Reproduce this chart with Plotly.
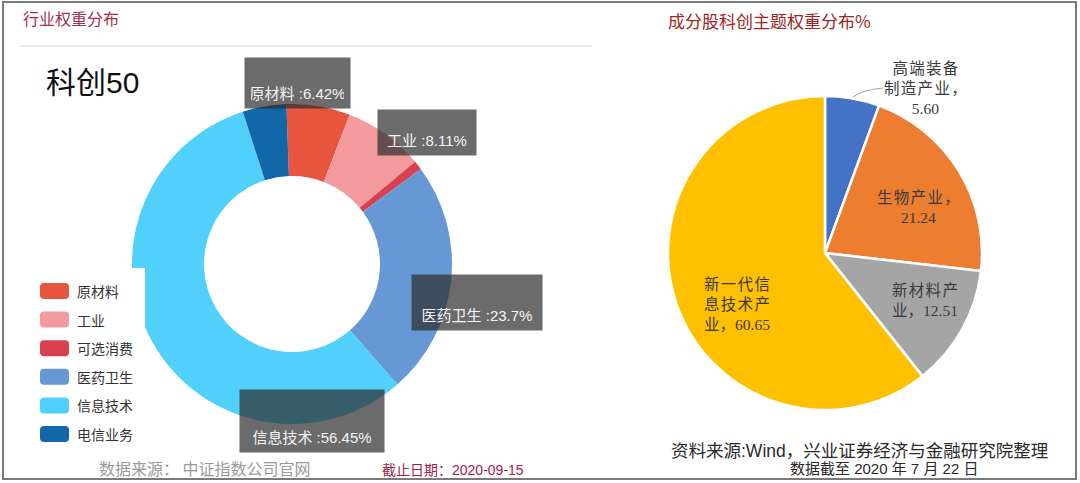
import plotly.graph_objects as go

# ---------------- data ----------------
left_labels = ["原材料", "工业", "可选消费", "医药卫生", "信息技术", "电信业务"]
left_values = [6.42, 8.11, 0.90, 23.70, 56.45, 4.42]
left_colors = ["#E8553E", "#F29A9E", "#D9404F", "#6698D6", "#50D0FA", "#1267A8"]
left_shown = ["原材料", "工业", "医药卫生", "信息技术"]   # slices that carry a label box

right_labels = ["高端装备制造产业", "生物产业", "新材料产业", "新一代信息技术产业"]
right_label_lines = [["高端装备", "制造产业，"], ["生物产业，"], ["新材料产", "业，"], ["新一代信", "息技术产", "业，"]]
right_values = [5.60, 21.24, 12.51, 60.65]
right_colors = ["#4472C4", "#ED7D31", "#A5A5A5", "#FFC000"]

W, H = 1080, 483


def px(x):
    return x / W


def py(y):
    return 1 - y / H


CJK = "Noto Sans CJK SC"
SANS = "Liberation Sans, Noto Sans CJK SC"
SERIF = "Liberation Serif, Noto Sans CJK SC"

fig = go.Figure()

# left donut: centre (292,264), radius 160
lc, lr = (292, 264), 160
fig.add_trace(go.Pie(
    labels=left_labels, values=left_values, sort=False, direction="clockwise", rotation=-2,
    hole=0.55, marker=dict(colors=left_colors, line=dict(width=0)),
    textinfo="none", hoverinfo="label+percent", showlegend=False,
    domain=dict(x=[px(lc[0] - lr), px(lc[0] + lr)], y=[py(lc[1] + lr), py(lc[1] - lr)]),
))

# right pie: centre (825,253), radius 157
rc, rr = (825, 253), 157
fig.add_trace(go.Pie(
    labels=right_labels, values=right_values, sort=False, direction="clockwise", rotation=0,
    marker=dict(colors=right_colors, line=dict(width=2.5, color="white")),
    textinfo="none", hoverinfo="label+value", showlegend=False,
    domain=dict(x=[px(rc[0] - rr), px(rc[0] + rr)], y=[py(rc[1] + rr), py(rc[1] - rr)]),
))

shapes = []
annotations = []

# outer frame
shapes.append(dict(type="rect", xref="paper", yref="paper", x0=px(3), x1=px(1076), y0=py(479), y1=py(2),
                   line=dict(color="#7a7a7a", width=2), fillcolor="rgba(0,0,0,0)", layer="above"))
# separator under left title
shapes.append(dict(type="line", xref="paper", yref="paper", x0=px(20), x1=px(592), y0=py(46), y1=py(46),
                   line=dict(color="#e2e2e2", width=1.5)))

# titles
annotations.append(dict(text="行业权重分布", x=px(21), y=py(18), xref="paper", yref="paper", xanchor="left",
                        yanchor="middle", showarrow=False, font=dict(family=CJK, size=16, color="#A3304E")))
annotations.append(dict(text="科创50", x=px(44), y=py(82), xref="paper", yref="paper", xanchor="left",
                        yanchor="middle", showarrow=False, font=dict(family=SANS, size=30, color="#111111")))
annotations.append(dict(text="成分股科创主题权重分布%", x=px(666), y=py(21), xref="paper", yref="paper",
                        xanchor="left", yanchor="middle", showarrow=False,
                        font=dict(family=CJK, size=17, color="#A42323")))

# manual legend for the donut (white panel covers part of the ring)
shapes.append(dict(type="rect", xref="paper", yref="paper", x0=px(4), x1=px(145), y0=py(452), y1=py(268),
                   line=dict(width=0), fillcolor="white", layer="above"))
for i, (lab, col) in enumerate(zip(left_labels, left_colors)):
    yc = 291 + i * 28.6
    x0, x1, y0, y1, rad = 40, 69, yc - 8, yc + 8, 4
    path = (f"M {px(x0 + rad)},{py(y0)} L {px(x1 - rad)},{py(y0)} Q {px(x1)},{py(y0)} {px(x1)},{py(y0 + rad)} "
            f"L {px(x1)},{py(y1 - rad)} Q {px(x1)},{py(y1)} {px(x1 - rad)},{py(y1)} "
            f"L {px(x0 + rad)},{py(y1)} Q {px(x0)},{py(y1)} {px(x0)},{py(y1 - rad)} "
            f"L {px(x0)},{py(y0 + rad)} Q {px(x0)},{py(y0)} {px(x0 + rad)},{py(y0)} Z")
    shapes.append(dict(type="path", xref="paper", yref="paper", path=path, fillcolor=col,
                       line=dict(width=0), layer="above"))
    annotations.append(dict(text=lab, x=px(75), y=py(yc), xref="paper", yref="paper", xanchor="left",
                            yanchor="middle", showarrow=False, font=dict(family=CJK, size=14, color="#333333")))

# label boxes on the donut: (centre x, centre y, width, height) in pixels
box_layout = {"原材料": (297, 83, 105, 50), "工业": (427, 132, 98, 45),
              "医药卫生": (477, 302, 130, 55), "信息技术": (312, 421, 144, 62)}
for lab, val in zip(left_labels, left_values):
    if lab not in left_shown:
        continue
    cx, cy, bw, bh = box_layout[lab]
    annotations.append(dict(text=f"{lab} :{val:g}%", x=px(cx), y=py(cy), xref="paper", yref="paper",
                            xanchor="center", yanchor="middle", showarrow=False,
                            width=bw - 12, height=bh - 12, valign="bottom", align="center", borderpad=6,
                            bgcolor="rgba(44,44,44,0.70)",
                            font=dict(family=SANS, size=15, color="#f4f4f4")))

# right pie labels: (x, y, anchor) in pixels
rlab_pos = [(925, 89, "center"), (918, 207, "center"), (925, 300, "center"), (702, 304, "left")]
for lines, val, (lx, ly, anc) in zip(right_label_lines, right_values, rlab_pos):
    if len(lines[-1]) <= 2:
        parts = lines[:-1] + [lines[-1] + f"{val:.2f}"]
    else:
        parts = lines + [f"{val:.2f}"]
    txt = "<br>".join("\u200a".join(p) if not p[0].isdigit() and len(p) > 3 and p[-1] == "，" or p[-1] != "，" and not p[-1].isdigit() else p for p in parts)
    annotations.append(dict(text=txt, x=px(lx), y=py(ly), xref="paper", yref="paper", xanchor=anc,
                            yanchor="middle", align=anc, showarrow=False,
                            font=dict(family=SERIF, size=15.5, color="#3a3a3a")))
# leader line for the small slice
shapes.append(dict(type="path", xref="paper", yref="paper",
                   path=f"M {px(853)},{py(97)} Q {px(862)},{py(90)} {px(883)},{py(88)}",
                   line=dict(color="#a0a0a0", width=1)))

# footers
annotations.append(dict(text="数据来源： 中证指数公司官网", x=px(97), y=py(468), xref="paper", yref="paper",
                        xanchor="left", yanchor="middle", showarrow=False,
                        font=dict(family=CJK, size=16, color="#9a9a9a")))
annotations.append(dict(text="截止日期：2020-09-15", x=px(380), y=py(470), xref="paper", yref="paper",
                        xanchor="left", yanchor="middle", showarrow=False,
                        font=dict(family=SANS, size=14, color="#A3204A")))
annotations.append(dict(text="资料来源:Wind，兴业证券经济与金融研究院整理", x=px(859), y=py(451), xref="paper",
                        yref="paper", xanchor="center", yanchor="middle", showarrow=False,
                        font=dict(family=SANS, size=17.5, color="#2a2a2a")))
annotations.append(dict(text="数据截至 2020 年 7 月 22 日", x=px(884), y=py(468), xref="paper", yref="paper",
                        xanchor="center", yanchor="middle", showarrow=False,
                        font=dict(family=SANS, size=15, color="#2a2a2a")))

fig.update_layout(
    width=W, height=H, margin=dict(l=0, r=0, t=0, b=0),
    paper_bgcolor="white", plot_bgcolor="white",
    shapes=shapes, annotations=annotations, showlegend=False,
)

fig.write_html("out.html", config={"displayModeBar": False},
               post_script="document.body.style.margin='0px';document.body.style.overflow='hidden';")
